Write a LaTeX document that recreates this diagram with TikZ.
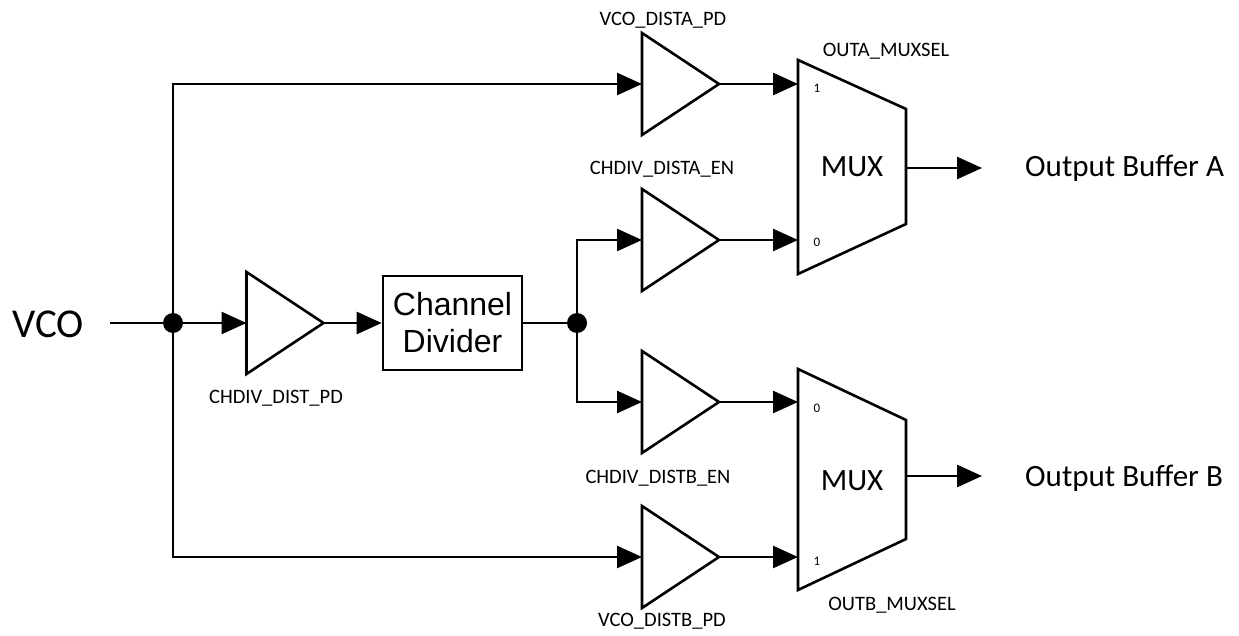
\documentclass[tikz,border=0pt]{standalone}
\usepackage{fontspec}
\setmainfont{Carlito}
\newfontfamily\arialf{Liberation Sans}
\usetikzlibrary{arrows.meta}
\begin{document}
\begin{tikzpicture}[x=1pt,y=-1pt,
  wire/.style={line width=2.6pt},
  arr/.style={wire,-{Triangle[length=25pt,width=22pt]}},
  bufbox/.style={rectangle,draw=none,inner sep=0pt,outer sep=0pt,minimum width=77pt,minimum height=102pt},
  shapeline/.style={line width=2.6pt,line join=miter},
  muxbox/.style={rectangle,draw=none,inner sep=0pt,outer sep=0pt,minimum width=108pt},
  dot/.style={circle,fill=black,inner sep=0pt,minimum size=20pt},
  lbl/.style={inner sep=0pt,anchor=base,font=\fontsize{20.5}{24}\selectfont},
  pin/.style={inner sep=0pt,anchor=base,font=\fontsize{13}{15}\selectfont},
  big/.style={inner sep=0pt,anchor=base,font=\fontsize{31}{36}\selectfont}]
\useasboundingbox (0,0) rectangle (1239,636);

% buffers
\node[bufbox] (b0) at (285,323) {};
\node[bufbox] (b1) at (680.5,84) {};
\node[bufbox] (b2) at (680.5,240) {};
\node[bufbox] (b3) at (680.5,402) {};
\node[bufbox] (b4) at (680.5,557) {};
\foreach \b in {b0,b1,b2,b3,b4}
  \draw[shapeline] (\b.north west) -- (\b.east) -- (\b.south west) -- cycle;

% channel divider
\node[draw,line width=2.6pt,minimum width=139pt,minimum height=94pt,inner sep=0pt,
      align=center,font=\arialf\fontsize{32}{37}\selectfont] (cd) at (452.5,323) {Channel\\Divider};

% muxes
\node[muxbox,minimum height=214pt] (muxA) at (852,167) {};
\draw[shapeline] (muxA.north west) -- ([yshift=-49pt]muxA.north east) -- ([yshift=50pt]muxA.south east) -- (muxA.south west) -- cycle;
\node[muxbox,minimum height=221pt] (muxB) at (852,479.5) {};
\draw[shapeline] (muxB.north west) -- ([yshift=-51pt]muxB.north east) -- ([yshift=51pt]muxB.south east) -- (muxB.south west) -- cycle;
\node[big] (mAt) at (852,177) {MUX};
\node[big] (mBt) at (852,490) {MUX};

% junctions
\node[dot] (j1) at (173,323) {};
\node[dot] (j2) at (577,323) {};

% VCO input
\node[inner sep=0pt,anchor=base,font=\fontsize{41}{46}\selectfont] (vco) at (48,337) {VCO};
\coordinate (vin) at (110,323);
\draw[wire] (vin) -- (j1);
\draw[arr] (j1) -- (b0.west);
\draw[arr] (b0.east) -- (cd.west);
\draw[wire] (cd.east) -- (j2);

% distribution
\draw[arr] (j1) |- (b1.west);
\draw[arr] (j1) |- (b4.west);
\draw[arr] (j2) |- (b2.west);
\draw[arr] (j2) |- (b3.west);

% into muxes
\draw[arr] (b1.east) -- (muxA.west |- b1.east);
\draw[arr] (b2.east) -- (muxA.west |- b2.east);
\draw[arr] (b3.east) -- (muxB.west |- b3.east);
\draw[arr] (b4.east) -- (muxB.west |- b4.east);

% outputs
\coordinate (oA) at (982,168);
\coordinate (oB) at (982,476);
\draw[arr] (muxA.east |- oA) -- (oA);
\draw[arr] (muxB.east |- oB) -- (oB);
\node[big,anchor=base west] (obA) at (1025,177) {Output Buffer A};
\node[big,anchor=base west] (obB) at (1025,486) {Output Buffer B};

% labels
\node[lbl] (l1) at (663,26) {VCO\_DISTA\_PD};
\node[lbl] (l2) at (886,57) {OUTA\_MUXSEL};
\node[lbl] (l3) at (662,175) {CHDIV\_DISTA\_EN};
\node[lbl] (l4) at (276,403) {CHDIV\_DIST\_PD};
\node[lbl] (l5) at (658,483) {CHDIV\_DISTB\_EN};
\node[lbl] (l6) at (892,610) {OUTB\_MUXSEL};
\node[lbl] (l7) at (662,626) {VCO\_DISTB\_PD};

% pin numbers
\node[pin] (pA1) at (817,93) {1};
\node[pin] (pA0) at (817,247) {0};
\node[pin] (pB0) at (817,412) {0};
\node[pin] (pB1) at (817,565) {1};
\end{tikzpicture}
\end{document}
